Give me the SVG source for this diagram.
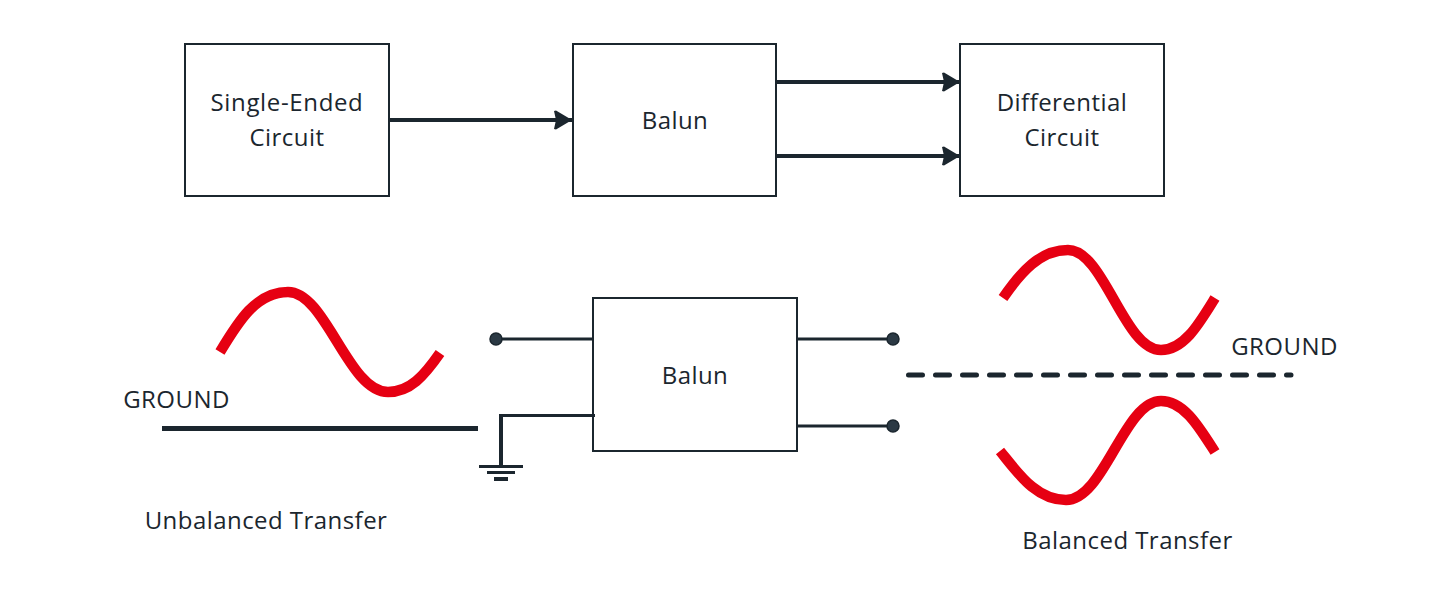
<svg xmlns="http://www.w3.org/2000/svg" width="1439" height="603" viewBox="0 0 1439 603">
<style>
text{font-family:"Open Sans","Noto Sans","Liberation Sans",sans-serif;font-size:24px;letter-spacing:.45px;fill:#1b262e;text-anchor:middle}
.box{fill:#fff;stroke:#1b262e;stroke-width:2}
.thick{fill:none;stroke:#1b262e;stroke-width:4}
.heavy{fill:none;stroke:#1b262e;stroke-width:5}
.thin{fill:none;stroke:#1b262e;stroke-width:3}
.wave{fill:none;stroke:#e60012;stroke-width:10.500}
.dot{fill:#2b3944;stroke:#1b262e;stroke-width:1.5}
</style>
<defs><marker id="a" markerUnits="userSpaceOnUse" markerWidth="20" markerHeight="20" refX="18" refY="10" orient="auto"><path d="M0 1L2 .5L18 10L2 19.500L0 19L2 10Z" fill="#1b262e"/></marker></defs>
<rect width="1439" height="603" fill="#fff"/>
<g id="balun-bottom"><rect class="box" x="593" y="298" width="204" height="153"/><text x="695" y="384">Balun</text></g>
<g id="single-ended"><rect class="box" x="185" y="44" width="204" height="152"/><text x="287" y="111" style="letter-spacing:.65px">Single-Ended</text><text x="287" y="146">Circuit</text></g>
<g id="balun-top"><rect class="box" x="573" y="44" width="203" height="152"/><text x="675" y="129">Balun</text></g>
<g id="differential"><rect class="box" x="960" y="44" width="204" height="152"/><text x="1062" y="111">Differential</text><text x="1062" y="146">Circuit</text></g>
<g id="connectors">
<path class="thick" marker-end="url(#a)" d="M388 120H572"/>
<path class="thick" marker-end="url(#a)" d="M776 82H960"/>
<path class="thick" marker-end="url(#a)" d="M776 156H960"/>
<path class="thin" d="M496 339H593M797 339H893M797 426H893"/>
<path class="thin" d="M595 415.500H499.500"/>
<path class="thick" d="M501 414V467"/>
<path class="heavy" d="M162 428.500H478"/>
<path class="heavy" stroke-linecap="round" stroke-dasharray="14 13" d="M908.500 375H1291"/>
<path class="thin" d="M479 466.500H523M487 472.500H515"/>
<path class="thick" d="M494 479H508"/>
<circle class="dot" cx="496" cy="339" r="6"/><circle class="dot" cx="893" cy="339" r="6"/><circle class="dot" cx="893" cy="426" r="6"/>
</g>
<g id="wave-left"><path class="wave" d="M220 352C238 322 256 292 288 292C326 292 348 392 388 392C410 392 424 376 440 353"/></g>
<g id="wave-right-top"><path class="wave" d="M1003 298C1021 272 1040 250 1068 250C1104 250 1124 350 1161 350C1184 350 1199 324 1215 298"/></g>
<g id="wave-right-bottom"><path class="wave" d="M1000 451C1018 473 1036 500 1066 500C1104 500 1124 401 1161 401C1184 401 1199 427 1215 452"/></g>
<g id="labels">
<text x="176.500" y="408">GROUND</text>
<text x="1284.500" y="355">GROUND</text>
<text x="266" y="529">Unbalanced Transfer</text>
<text x="1127.500" y="549">Balanced Transfer</text>
</g>
</svg>
